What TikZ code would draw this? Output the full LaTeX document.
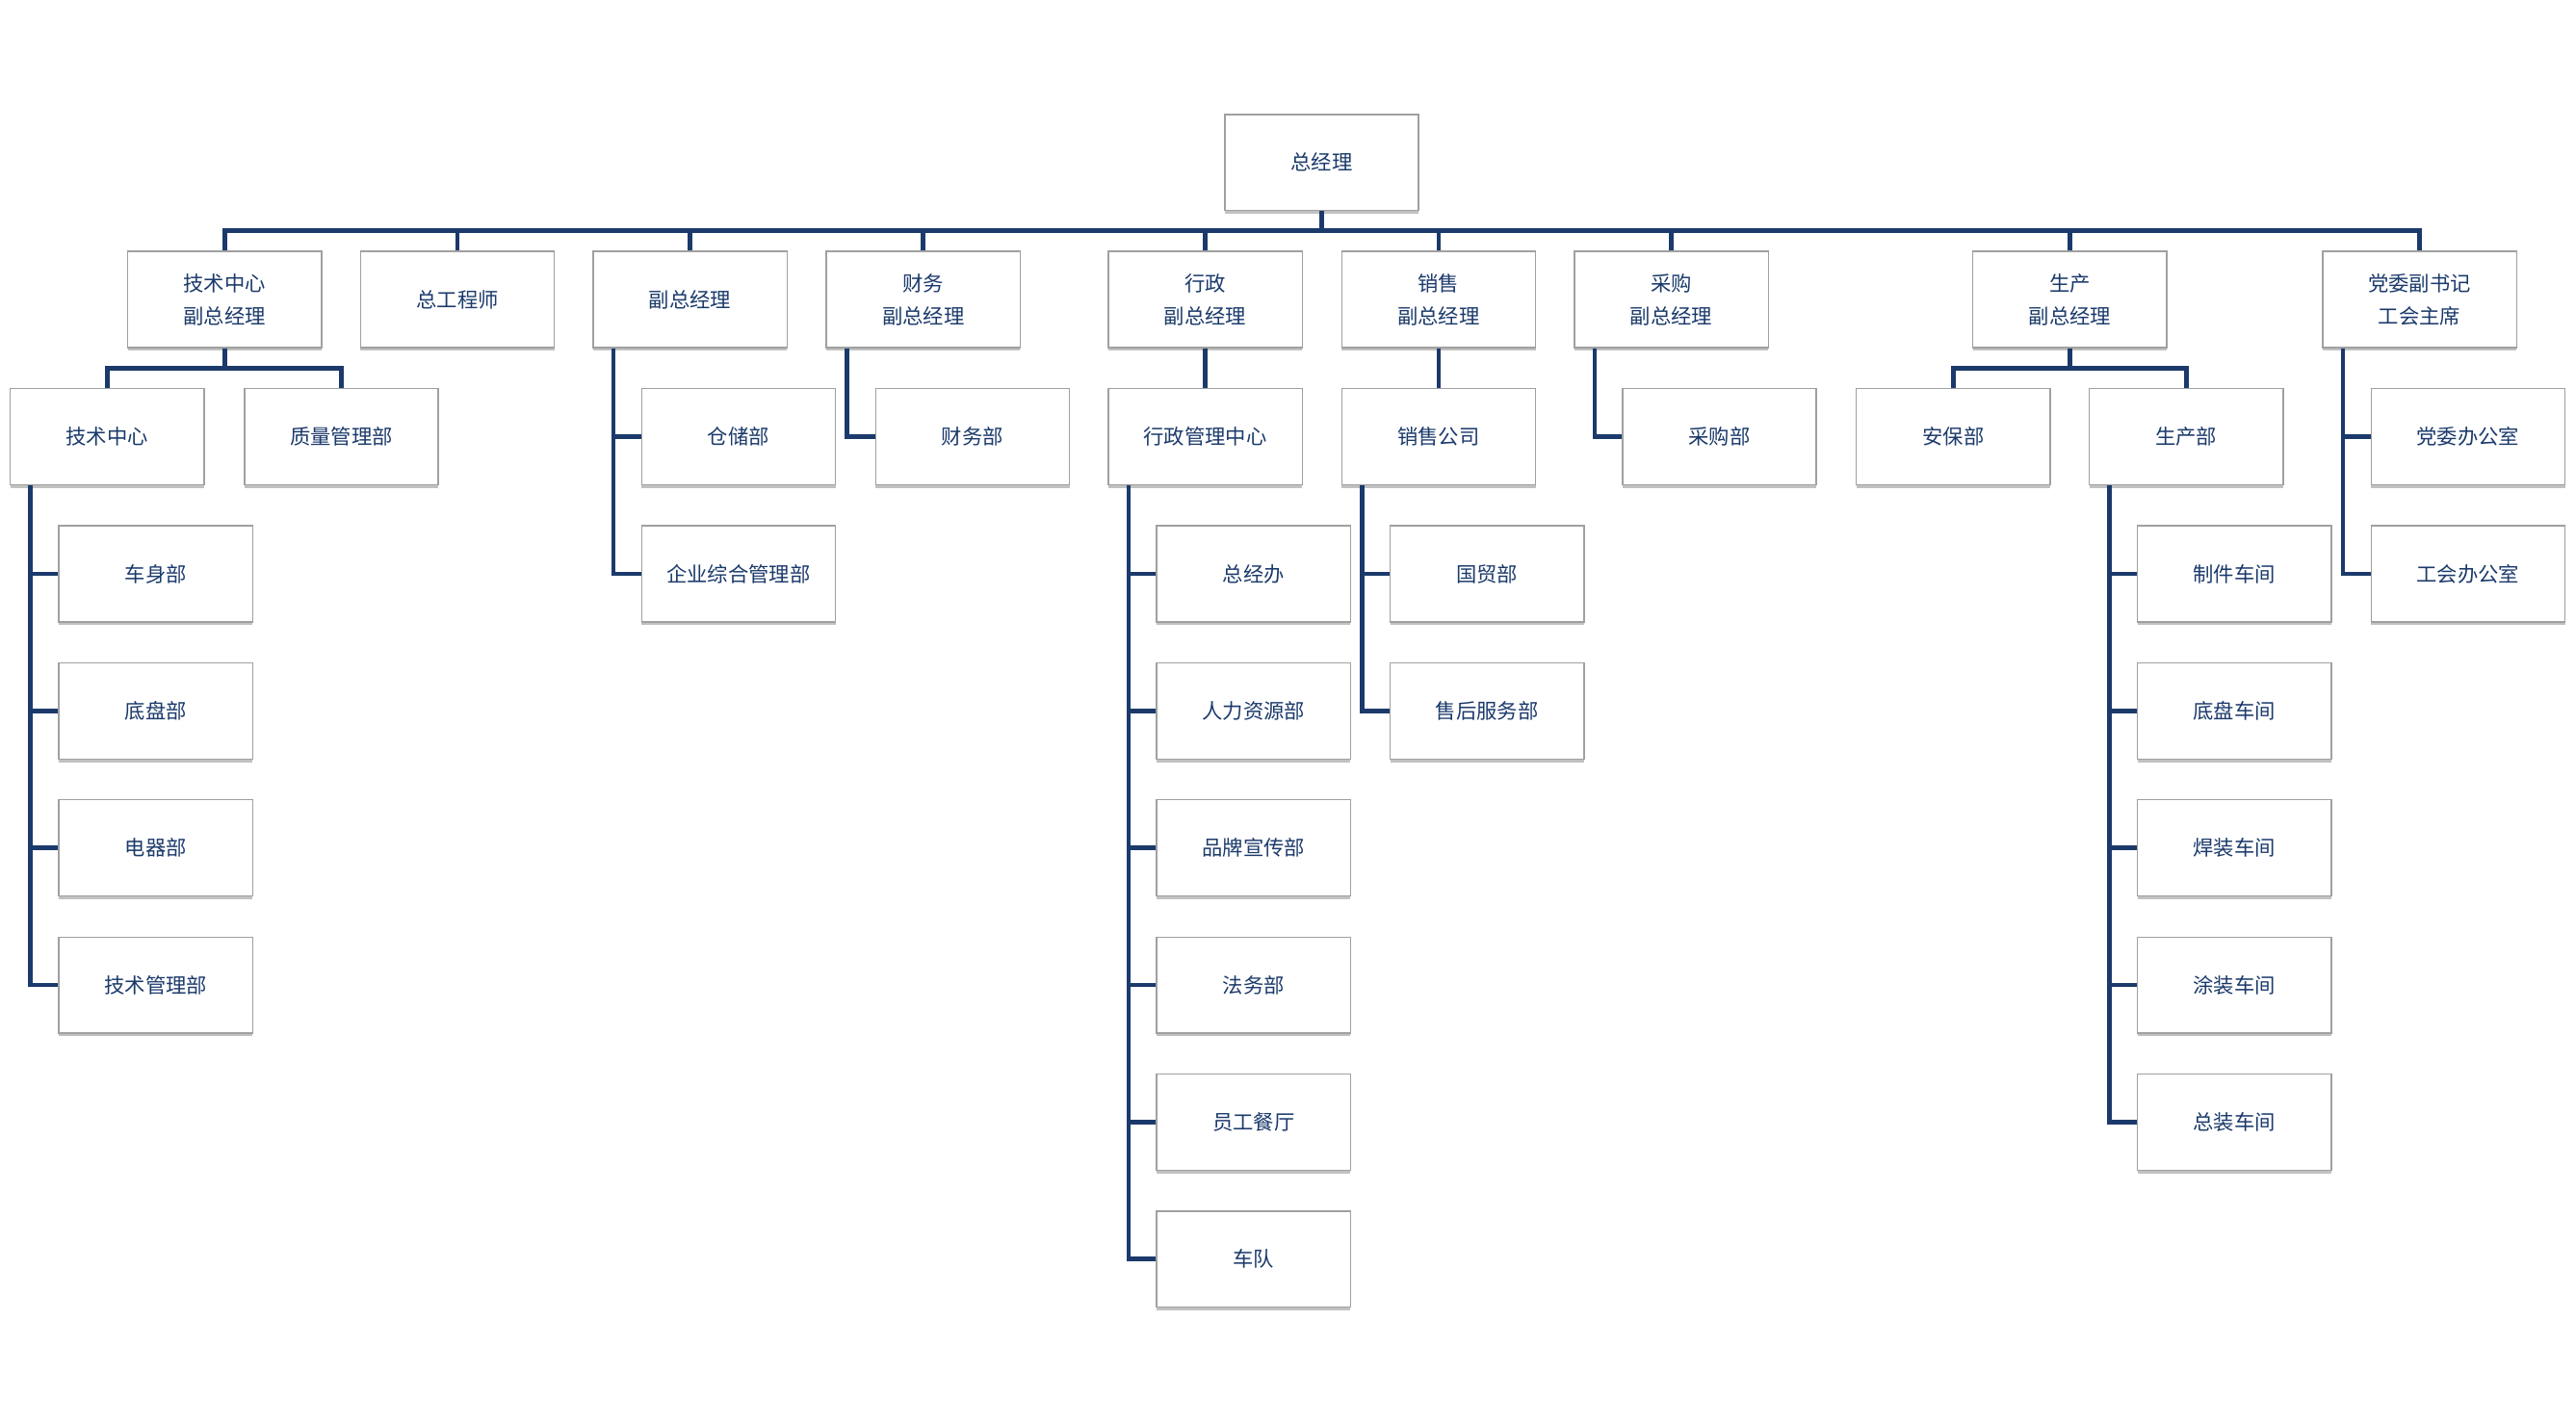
\documentclass[tikz,border=0pt]{standalone}
\usepackage{fontspec}
\newfontfamily\cjk{Noto Sans CJK SC}
\usetikzlibrary{shadows,calc}
\definecolor{navy}{RGB}{27,58,107}
\definecolor{boxline}{RGB}{160,160,160}
\begin{document}
\begin{tikzpicture}[x=1pt,y=-1pt,
  orgbox/.style={draw=boxline, line width=0.8pt, fill=white,
    minimum width=118pt, minimum height=58.5pt, inner sep=0pt,
    align=center, text=navy, font=\cjk\fontsize{12.5}{20}\selectfont,
    drop shadow={shadow xshift=0pt, shadow yshift=-2pt, opacity=0.35, fill=black!70}},
  conn/.style={draw=navy, line width=2.75pt}]
\useasboundingbox (0,0) rectangle (1568,866.4);

% level 0
\node[orgbox] (gm) at (804.5,98.9) {总经理};

% level 1
\node[orgbox] (v1) at (136.75,182.3) {技术中心\\副总经理};
\node[orgbox] (v2) at (278.5,182.3) {总工程师};
\node[orgbox] (v3) at (420,182.3) {副总经理};
\node[orgbox] (v4) at (562,182.3) {财务\\副总经理};
\node[orgbox] (v5) at (733.6,182.3) {行政\\副总经理};
\node[orgbox] (v6) at (875.7,182.3) {销售\\副总经理};
\node[orgbox] (v7) at (1017.3,182.3) {采购\\副总经理};
\node[orgbox] (v8) at (1259.9,182.3) {生产\\副总经理};
\node[orgbox] (v9) at (1472.8,182.3) {党委副书记\\工会主席};

% level 2
\node[orgbox] (d1) at (65.2,265.7) {技术中心};
\node[orgbox] (d2) at (207.8,265.7) {质量管理部};
\node[orgbox] (d3) at (449.5,265.7) {仓储部};
\node[orgbox] (d4) at (592,265.7) {财务部};
\node[orgbox] (d5) at (733.6,265.7) {行政管理中心};
\node[orgbox] (d6) at (875.7,265.7) {销售公司};
\node[orgbox] (d7) at (1046.6,265.7) {采购部};
\node[orgbox] (d8) at (1189,265.7) {安保部};
\node[orgbox] (d9) at (1330.7,265.7) {生产部};
\node[orgbox] (d10) at (1502.3,265.7) {党委办公室};

% level 3
\node[orgbox] (t1) at (94.8,349.4) {车身部};
\node[orgbox] (t2) at (94.8,432.8) {底盘部};
\node[orgbox] (t3) at (94.8,516.2) {电器部};
\node[orgbox] (t4) at (94.8,599.7) {技术管理部};

\node[orgbox] (e1) at (449.5,349.4) {企业综合管理部};

\node[orgbox] (a1) at (763,349.4) {总经办};
\node[orgbox] (a2) at (763,432.8) {人力资源部};
\node[orgbox] (a3) at (763,516.2) {品牌宣传部};
\node[orgbox] (a4) at (763,599.7) {法务部};
\node[orgbox] (a5) at (763,683.1) {员工餐厅};
\node[orgbox] (a6) at (763,766.6) {车队};

\node[orgbox] (s1) at (905.2,349.4) {国贸部};
\node[orgbox] (s2) at (905.2,432.8) {售后服务部};

\node[orgbox] (p1) at (1360,349.4) {制件车间};
\node[orgbox] (p2) at (1360,432.8) {底盘车间};
\node[orgbox] (p3) at (1360,516.2) {焊装车间};
\node[orgbox] (p4) at (1360,599.7) {涂装车间};
\node[orgbox] (p5) at (1360,683.1) {总装车间};

\node[orgbox] (u1) at (1502.3,349.4) {工会办公室};

% main bus
\coordinate (bus) at (0,140.5);
\draw[conn] (v1.north) -- (v1.north |- bus) -- (v9.north |- bus) -- (v9.north);
\foreach \n in {v2,v3,v4,v5,v6,v7,v8}
  \draw[conn] (\n.north) -- (\n.north |- bus);
\draw[conn] (gm.south) -- (gm.south |- bus);

% sub buses
\coordinate (sb) at (0,224.3);
\draw[conn] (d1.north) -- (d1.north |- sb) -- (d2.north |- sb) -- (d2.north);
\draw[conn] (v1.south) -- (v1.south |- sb);
\draw[conn] (d8.north) -- (d8.north |- sb) -- (d9.north |- sb) -- (d9.north);
\draw[conn] (v8.south) -- (v8.south |- sb);

% straight
\draw[conn] (v5.south) -- (d5.north);
\draw[conn] (v6.south) -- (d6.north);

% ladders
\coordinate (v3l) at ($(v3.south west)+(12.8,0)$);
\draw[conn] (v3l) |- (e1.west);
\draw[conn] (d3.west) -- (d3.west -| v3l);

\coordinate (v4l) at ($(v4.south west)+(12.8,0)$);
\draw[conn] (v4l) |- (d4.west);

\coordinate (v7l) at ($(v7.south west)+(12.8,0)$);
\draw[conn] (v7l) |- (d7.west);

\coordinate (v9l) at ($(v9.south west)+(12.8,0)$);
\draw[conn] (v9l) |- (u1.west);
\draw[conn] (d10.west) -- (d10.west -| v9l);

\coordinate (d1l) at ($(d1.south west)+(12.5,0)$);
\draw[conn] (d1l) |- (t4.west);
\foreach \n in {t1,t2,t3}
  \draw[conn] (\n.west) -- (\n.west -| d1l);

\coordinate (d5l) at ($(d5.south west)+(12.8,0)$);
\draw[conn] (d5l) |- (a6.west);
\foreach \n in {a1,a2,a3,a4,a5}
  \draw[conn] (\n.west) -- (\n.west -| d5l);

\coordinate (d6l) at ($(d6.south west)+(12.8,0)$);
\draw[conn] (d6l) |- (s2.west);
\draw[conn] (s1.west) -- (s1.west -| d6l);

\coordinate (d9l) at ($(d9.south west)+(12.8,0)$);
\draw[conn] (d9l) |- (p5.west);
\foreach \n in {p1,p2,p3,p4}
  \draw[conn] (\n.west) -- (\n.west -| d9l);
\end{tikzpicture}
\end{document}
